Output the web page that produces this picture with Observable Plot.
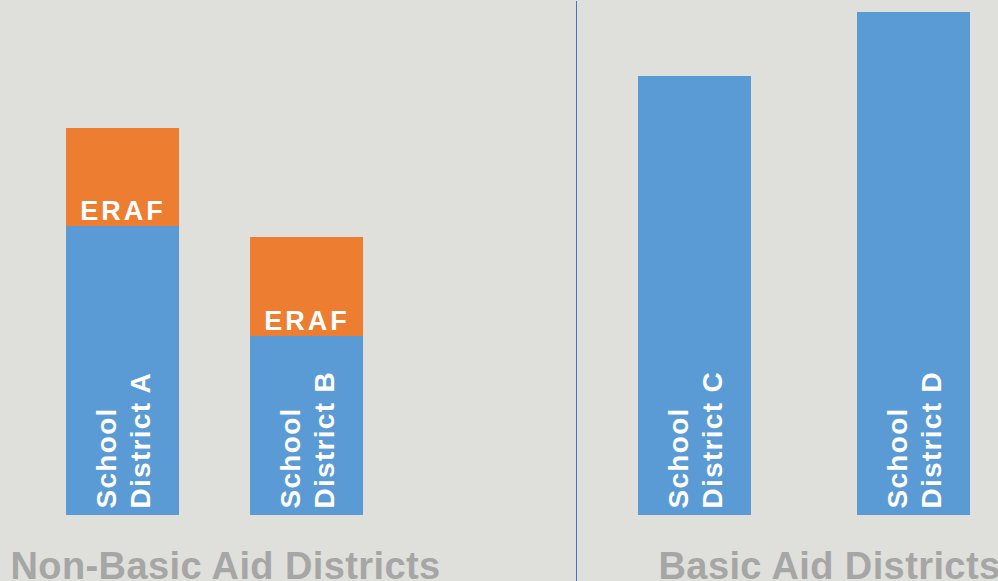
<!DOCTYPE html>
<html>
<head>
<meta charset="utf-8">
<script src="https://cdn.jsdelivr.net/npm/d3@7"></script>
<script src="https://cdn.jsdelivr.net/npm/@observablehq/plot@0.6"></script>
<style>
  html, body { margin: 0; padding: 0; background: #dfdfdb; overflow: hidden; }
  #wrap { display: flex; flex-direction: row; width: 998px; height: 581px; }
  #divider { width: 1px; height: 580px; margin-top: 1px; background: #4472c4; flex: none; }
  #left, #right { flex: none; }
  svg { font-family: "Liberation Sans", Arial, sans-serif; }
</style>
</head>
<body>
<div id="wrap"><div id="left"></div><div id="divider"></div><div id="right"></div></div>
<script>
// ---- data ----
const districts = ["School District A", "School District B", "School District C", "School District D"];
const districtLabels = ["School\nDistrict A", "School\nDistrict B", "School\nDistrict C", "School\nDistrict D"];
const groupNames = ["Non-Basic Aid Districts", "Basic Aid Districts"];
const districtGroup = [0, 0, 1, 1];
const baseValues = [289, 179, 439, 503];
const erafValues = [98, 99, 0, 0];
const partNames = ["base", "ERAF"];
const partColors = ["#5b9bd5", "#ed7d31"];

// ---- build rows ----
const rows = [];
districts.forEach((d, i) => {
  rows.push({district: d, part: "base", value: baseValues[i], group: districtGroup[i]});
  if (erafValues[i] > 0) rows.push({district: d, part: "ERAF", value: erafValues[i], group: districtGroup[i]});
});
const labelRows = districts.map((d, i) => ({district: d, label: districtLabels[i], base: baseValues[i], eraf: erafValues[i], group: districtGroup[i]}));

const yMax = d3.max(districts, (d, i) => baseValues[i] + erafValues[i]);

function makePlot(g, opts) {
  const ds = districts.filter((d, i) => districtGroup[i] === g);
  return Plot.plot({
    width: opts.width,
    height: 581,
    marginLeft: opts.ml,
    marginRight: opts.mr,
    marginTop: 12,
    marginBottom: 66,
    style: {background: "#dfdfdb", overflow: "visible"},
    x: {domain: ds, paddingInner: opts.pi, paddingOuter: 0, axis: null},
    y: {domain: [0, yMax], axis: null},
    color: {domain: partNames, range: partColors},
    marks: [
      Plot.barY(rows.filter(r => r.group === g), {x: "district", y: "value", fill: "part"}),
      Plot.text(labelRows.filter(r => r.group === g && r.eraf > 0), {
        x: "district", y: "base", text: () => "ERAF", fill: "white",
        fontSize: 27, fontWeight: "bold", lineAnchor: "bottom", dy: -7
      }),
      Plot.text(labelRows.filter(r => r.group === g), {
        x: "district", y: () => 0, text: "label", rotate: -90, textAnchor: "start",
        fill: "white", fontSize: 28, fontWeight: "bold", lineHeight: 1.2, dy: -7, dx: -1
      }),
      Plot.text([groupNames[g]], {
        frameAnchor: "bottom-left", text: d => d, textAnchor: "start", lineAnchor: "bottom",
        fill: "#a6a6a6", fontSize: 38, fontWeight: "bold", dx: opts.gdx, dy: 63
      })
    ]
  });
}

function styleText(svg) {
  d3.select(svg).selectAll("text").each(function() {
    const t = this.textContent;
    if (t === "ERAF") this.setAttribute("letter-spacing", "3px");
    else if (groupNames.includes(t)) this.setAttribute("letter-spacing", "0.4px");
    else this.setAttribute("letter-spacing", "1.3px");
  });
  return svg;
}

document.getElementById("left").append(styleText(makePlot(0, {width: 576, ml: 66, mr: 213, pi: 0.386, gdx: -56})));
document.getElementById("right").append(styleText(makePlot(1, {width: 421, ml: 61, mr: 27, pi: 0.483, gdx: 20})));
</script>
</body>
</html>
